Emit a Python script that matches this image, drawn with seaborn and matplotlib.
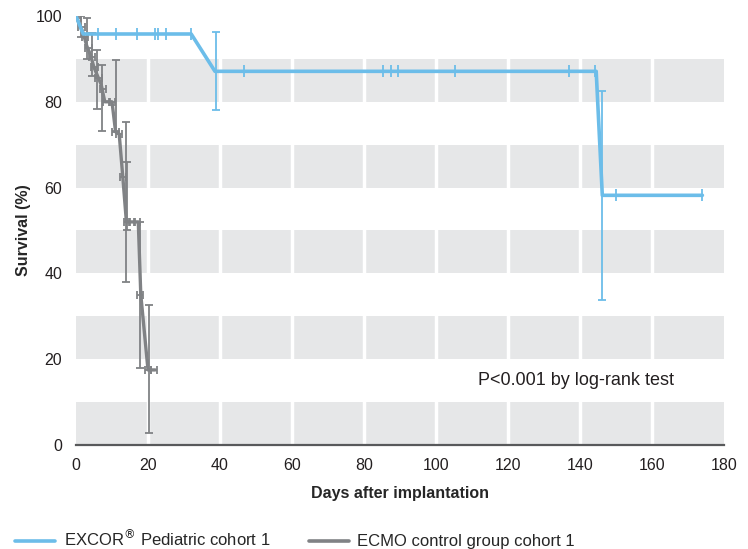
import numpy as np
import pandas as pd
import matplotlib
matplotlib.use('Agg')
import matplotlib.pyplot as plt
import seaborn as sns
from matplotlib.lines import Line2D

# EXCOR Pediatric cohort 1 (blue)
excor_days = [0, 2, 32, 38.6, 144.5, 146.2, 174]
excor_surv = [100, 95.8, 95.8, 87.1, 87.1, 58.2, 58.2]
excor_cens_days = [6, 11, 17, 22, 22.8, 25, 32, 46.7, 85.3, 87.4, 89.4, 105.3, 137, 144.3, 150, 174]
excor_cens_surv = [95.8] * 7 + [87.1] * 7 + [58.2] * 2
excor_err_days = [38.8, 146.0]
excor_err_low = [78.0, 33.8]
excor_err_high = [96.2, 82.6]

# ECMO control group cohort 1 (grey)
ecmo_days = [0, 1, 2, 3, 4, 5, 6, 7, 8, 10, 11, 12, 13, 14, 16, 17.3, 18, 20, 22]
ecmo_surv = [100, 98, 96, 93, 91, 88, 86, 84, 80, 80, 73, 72.5, 62.5, 52, 52, 52, 35, 17.5, 17.5]
ecmo_cens_days = [0.5, 1.5, 2.5, 3.5, 4.5, 5.2, 6.2, 7.5, 8.5, 10, 11, 12, 13, 14.2, 15.5, 17, 17.8, 20, 21.6]
ecmo_cens_surv = [99.5, 97.5, 95, 92.5, 90.5, 88, 85.5, 83, 80, 80, 73, 72.5, 62.5, 52, 52, 52, 35, 17.5, 17.5]
ecmo_err_days = [1.5, 3, 4.5, 5.7, 7.3, 11, 13.8, 14.3, 17.8, 20.3]
ecmo_err_low = [95, 90, 86, 78.3, 73.3, 73.3, 38, 50, 18, 2.8]
ecmo_err_high = [100, 99.5, 96, 92, 88.6, 89.7, 75.3, 66, 52, 32.6]

blue = '#6cbde9'
grey = '#808285'
band = '#e6e7e8'

sns.set_style('white')
plt.rcParams['font.family'] = ['Liberation Sans', 'DejaVu Sans']

fig = plt.figure(figsize=(7.48, 5.49), dpi=100)
ax = fig.add_axes([0.1016, 0.1894, 0.8663, 0.7815])

# background bands
for lo in range(0, 100, 20):
    ax.axhspan(lo, lo + 10, color=band, lw=0, zorder=0)
for xv in range(20, 180, 20):
    ax.axvline(xv, color='white', lw=2.5, zorder=0.5)

# ECMO
df_ecmo = pd.DataFrame({'Days': ecmo_days, 'Survival': ecmo_surv})
sns.lineplot(data=df_ecmo, x='Days', y='Survival', sort=False, estimator=None,
             color=grey, lw=2.4, ax=ax, zorder=3)
e_lo = np.array(ecmo_err_low)
e_hi = np.array(ecmo_err_high)
e_mid = (e_lo + e_hi) / 2
ax.errorbar(ecmo_err_days, e_mid, yerr=[e_mid - e_lo, e_hi - e_mid], fmt='none',
            ecolor=grey, elinewidth=1.3, capsize=3, capthick=1.3, zorder=2)
ax.errorbar(ecmo_cens_days, ecmo_cens_surv, xerr=0.9, fmt='none', ecolor=grey,
            elinewidth=1.3, capsize=3, capthick=1.3, zorder=3)

# EXCOR
df_excor = pd.DataFrame({'Days': excor_days, 'Survival': excor_surv})
sns.lineplot(data=df_excor, x='Days', y='Survival', sort=False, estimator=None,
             color=blue, lw=2.6, ax=ax, zorder=4)
b_lo = np.array(excor_err_low)
b_hi = np.array(excor_err_high)
b_mid = (b_lo + b_hi) / 2
ax.errorbar(excor_err_days, b_mid, yerr=[b_mid - b_lo, b_hi - b_mid], fmt='none',
            ecolor=blue, elinewidth=1.3, capsize=3, capthick=1.3, zorder=4)
ax.plot(excor_cens_days, excor_cens_surv, ls='none', marker='|', ms=9, mew=1.3,
        color=blue, zorder=5)

ax.text(139, 15, 'P<0.001 by log-rank test', fontsize=13, ha='center', va='center',
        color='#231f20')

ax.set_xlim(0, 180)
ax.set_ylim(0, 100)
ax.set_xticks(range(0, 181, 20))
ax.set_yticks(range(0, 101, 20))
ax.tick_params(length=0, labelsize=11.5, colors='#231f20')
ax.tick_params(axis='x', pad=9)
ax.tick_params(axis='y', pad=10)
for s in ['top', 'right', 'left']:
    ax.spines[s].set_visible(False)
ax.spines['bottom'].set_color('#58595b')
ax.spines['bottom'].set_linewidth(1.6)
ax.set_xlabel('Days after implantation', fontsize=11.5, fontweight='bold', labelpad=10)
ax.set_ylabel('Survival (%)', fontsize=11.5, fontweight='bold', labelpad=3)
ax.grid(False)

handles = [Line2D([0], [0], color=blue, lw=2.6), Line2D([0], [0], color=grey, lw=2.6)]
fig.legend(handles, ['EXCOR$^{®}$ Pediatric cohort 1', 'ECMO control group cohort 1'],
           loc='lower left', bbox_to_anchor=(0.005, -0.022), ncol=2, frameon=False,
           fontsize=12, handlelength=2.4, handletextpad=0.5, columnspacing=2.3, borderpad=0.2)

fig.savefig('out.png', dpi=100)
